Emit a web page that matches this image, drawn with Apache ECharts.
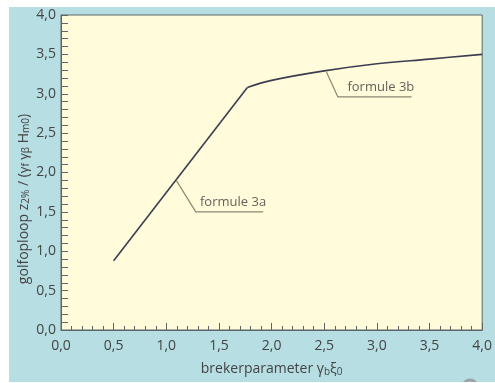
<!DOCTYPE html>
<html>
<head>
<meta charset="utf-8">
<script src="https://cdn.jsdelivr.net/npm/echarts@6/dist/echarts.min.js"></script>
<style>
  html, body { margin: 0; padding: 0; background: #ffffff; }
  #chart { position: absolute; left: 9px; top: 7px; width: 486px; height: 375px; }
</style>
</head>
<body>
<div id="chart"></div>
<script>
// formule 3a: straight part
const xA = [0.5, 1.77]
const yA = [0.88, 3.08]
// formule 3b: flattening part from the kink to the right edge
const xB = [1.77, 2.0, 2.5, 3.0, 3.5, 4.0]
const yB = [3.08, 3.17, 3.29, 3.38, 3.44, 3.5]

// leader lines for the two labels
const leader3a = [[1.095, 1.9], [1.28, 1.5], [1.92, 1.5]]
const leader3b = [[2.52, 3.28], [2.63, 2.96], [3.33, 2.96]]
const labelPos = [
  { text: 'formule 3a', at: [1.32, 1.62] },
  { text: 'formule 3b', at: [2.72, 3.08] }
]

const textColor = '#444'
const font = '"Open Sans", "Noto Sans", sans-serif'

const chart = echarts.init(document.getElementById('chart'))

const fmt = v => v.toFixed(1).replace('.', ',')

chart.setOption({
  backgroundColor: '#b6dee3',
  animation: false,
  grid: {
    left: 52,
    right: 5,
    top: 8,
    bottom: 48,
    show: true,
    backgroundColor: '#fffbdb',
    borderColor: '#5d6666',
    borderWidth: 1
  },
  xAxis: {
    type: 'value',
    min: 0,
    max: 4,
    interval: 0.5,
    name: '{t|brekerparameter }{g|γ}{s|b}{g|ξ}{s|0}',
    nameLocation: 'middle',
    nameGap: 31,
    nameTextStyle: {
      rich: {
        t: { fontSize: 14, color: textColor, fontFamily: font },
        g: { fontSize: 14, color: textColor, fontFamily: font },
        s: { fontSize: 10, color: textColor, fontFamily: font, padding: [6, 0, 0, 0] }
      }
    },
    axisLine: { lineStyle: { color: '#5d6666', width: 1 } },
    axisTick: { inside: true, length: 7, lineStyle: { color: '#5d6666' } },
    minorTick: { show: true, splitNumber: 5, length: 4, lineStyle: { color: '#5d6666' } },
    splitLine: { show: false },
    axisLabel: { formatter: fmt, color: textColor, fontSize: 14, fontFamily: font, margin: 9 }
  },
  yAxis: {
    type: 'value',
    min: 0,
    max: 4,
    interval: 0.5,
    axisLine: { show: true, lineStyle: { color: '#5d6666', width: 1 } },
    axisTick: { show: true, inside: true, length: 7, lineStyle: { color: '#5d6666' } },
    minorTick: { show: true, splitNumber: 5, length: 7, lineStyle: { color: '#5d6666' } },
    splitLine: { show: false },
    axisLabel: { formatter: fmt, color: textColor, fontSize: 14, fontFamily: font, margin: 5 }
  },
  graphic: [
    {
      type: 'text',
      x: 15,
      y: 192,
      rotation: Math.PI / 2,
      style: {
        text: '{t|golfoploop z}{s|2%}{t| / (}{g|γ}{s|f}{g| γ}{s|β}{t| H}{s|m0}{t|)}',
        align: 'center',
        verticalAlign: 'middle',
        rich: {
          t: { fontSize: 14, fill: textColor, fontFamily: font },
          g: { fontSize: 13, fill: textColor, fontFamily: font },
          s: { fontSize: 10, fill: textColor, fontFamily: font, padding: [5, 0, 0, 0] }
        }
      }
    },
    {
      type: 'text',
      x: -9,
      y: 28,
      style: { text: ')', fontSize: 14, fill: '#555', fontFamily: font }
    },
    {
      type: 'circle',
      shape: { cx: 461, cy: 380, r: 7 },
      style: { fill: 'none', stroke: '#9aa3a5', lineWidth: 3 }
    }
  ],
  series: [
    {
      type: 'line',
      data: xA.map((x, i) => [x, yA[i]]),
      showSymbol: false,
      lineStyle: { color: '#3a3e50', width: 1.6 }
    },
    {
      type: 'line',
      data: xB.map((x, i) => [x, yB[i]]),
      smooth: 0.4,
      showSymbol: false,
      lineStyle: { color: '#3a3e50', width: 1.6 }
    },
    {
      type: 'line',
      data: leader3a,
      showSymbol: false,
      lineStyle: { color: '#8c8772', width: 1.2 }
    },
    {
      type: 'line',
      data: leader3b,
      showSymbol: false,
      lineStyle: { color: '#8c8772', width: 1.2 }
    },
    {
      type: 'scatter',
      data: labelPos.map(l => ({ value: l.at, name: l.text })),
      symbolSize: 0,
      label: {
        show: true,
        position: 'right',
        distance: 0,
        formatter: p => p.name,
        color: '#3a3a3a',
        fontSize: 13,
        fontFamily: font
      }
    }
  ]
})
</script>
</body>
</html>
